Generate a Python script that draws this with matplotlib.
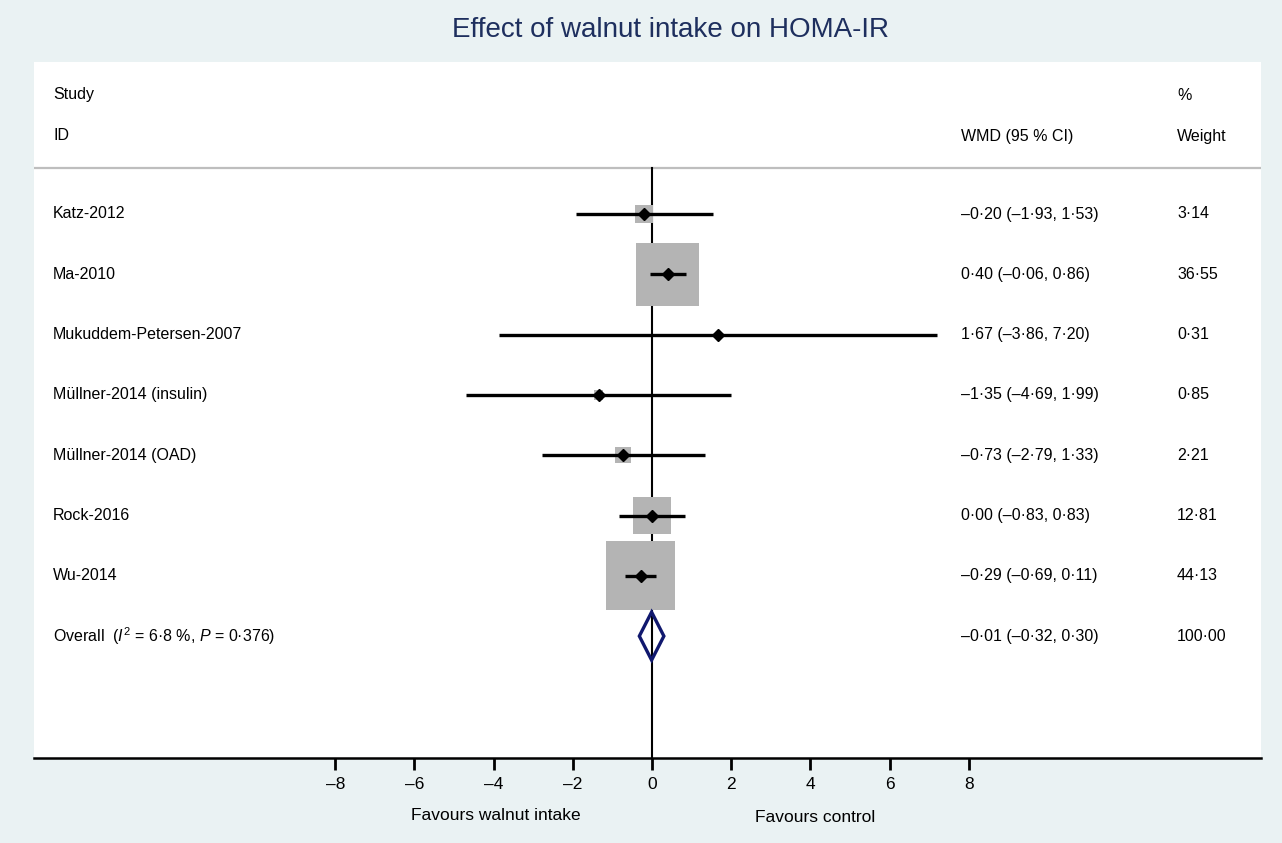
import matplotlib
matplotlib.use("Agg")
import numpy as np
import matplotlib.pyplot as plt
from matplotlib.patches import Rectangle, Polygon

plt.rcParams['font.family'] = ['Liberation Sans', 'DejaVu Sans']
plt.rcParams['mathtext.fontset'] = 'custom'
plt.rcParams['mathtext.rm'] = 'Liberation Sans'
plt.rcParams['mathtext.it'] = 'Liberation Sans:italic'

studies = ["Katz-2012", "Ma-2010", "Mukuddem-Petersen-2007", "Müllner-2014 (insulin)",
           "Müllner-2014 (OAD)", "Rock-2016", "Wu-2014"]
wmd = [-0.20, 0.40, 1.67, -1.35, -0.73, 0.00, -0.29]
ci_lo = [-1.93, -0.06, -3.86, -4.69, -2.79, -0.83, -0.69]
ci_hi = [1.53, 0.86, 7.20, 1.99, 1.33, 0.83, 0.11]
weights = [3.14, 36.55, 0.31, 0.85, 2.21, 12.81, 44.13]
overall = [-0.01, -0.32, 0.30]
overall_label = r"Overall  ($\it{I}^2$ = 6·8 %, $\it{P}$ = 0·376)"
xticks = [-8, -6, -4, -2, 0, 2, 4, 6, 8]

def fmt(v):
    s = "%.2f" % abs(v)
    s = s.replace(".", "·")
    return ("–" + s) if v < 0 else s

W, H = 1282, 843
fig = plt.figure(figsize=(W / 100, H / 100), dpi=100, facecolor='#EAF2F3')
ax = fig.add_axes([34 / W, (H - 758) / H, (1261 - 34) / W, (758 - 62) / H])
ax.set_facecolor('white')

px_x = 39.6   # pixels per x unit
px_y = 60.3   # pixels per row
ax.set_xlim((34 - 652) / px_x, (1261 - 652) / px_x)
ax.set_ylim((758 - 214) / px_y, (62 - 214) / px_y)

header_y = (168 - 214) / px_y
ax.axhline(header_y, color='#BEBEBE', lw=1.6, zorder=1)
ax.plot([0, 0], [header_y, (758 - 214) / px_y], color='black', lw=1.5, zorder=1)

x_text = (53 - 652) / px_x
x_wmd = (961 - 652) / px_x
x_w = (1177 - 652) / px_x
fs = 11.5

ax.text(x_text, (95 - 214) / px_y, "Study", fontsize=fs, va='center')
ax.text(x_text, (136 - 214) / px_y, "ID", fontsize=fs, va='center')
ax.text(x_wmd, (136 - 214) / px_y, "WMD (95 % CI)", fontsize=fs, va='center')
ax.text(x_w, (95 - 214) / px_y, "%", fontsize=fs, va='center')
ax.text(x_w, (136 - 214) / px_y, "Weight", fontsize=fs, va='center')

k = 63 / np.sqrt(36.55)
for i, name in enumerate(studies):
    side = k * np.sqrt(weights[i])
    bw, bh = side / px_x, side / px_y
    ax.add_patch(Rectangle((wmd[i] - bw / 2, i - bh / 2), bw, bh,
                           facecolor='#B4B4B4', edgecolor='none', zorder=2))
    ax.plot([ci_lo[i], ci_hi[i]], [i, i], color='black', lw=2.4, zorder=3,
            solid_capstyle='butt')
    ax.plot(wmd[i], i, marker='D', color='black', markersize=6.5, zorder=4)
    ax.text(x_text, i, name, fontsize=fs, va='center')
    ax.text(x_wmd, i, "%s (%s, %s)" % (fmt(wmd[i]), fmt(ci_lo[i]), fmt(ci_hi[i])),
            fontsize=fs, va='center')
    ax.text(x_w, i, fmt(weights[i]), fontsize=fs, va='center')

yo = len(studies)
dh = 24 / px_y
ax.add_patch(Polygon([[overall[1], yo], [overall[0], yo - dh], [overall[2], yo],
                      [overall[0], yo + dh]], closed=True, facecolor='none',
                     edgecolor='#10186E', lw=2.4, zorder=4))
ax.text(x_text, yo, overall_label, fontsize=fs, va='center')
ax.text(x_wmd, yo, "%s (%s, %s)" % (fmt(overall[0]), fmt(overall[1]), fmt(overall[2])),
        fontsize=fs, va='center')
ax.text(x_w, yo, "100·00", fontsize=fs, va='center')

for s in ['top', 'left', 'right']:
    ax.spines[s].set_visible(False)
ax.spines['bottom'].set_linewidth(1.8)
ax.set_yticks([])
ax.set_xticks(xticks)
ax.set_xticklabels([("–%d" % -t) if t < 0 else str(t) for t in xticks], fontsize=12.5)
ax.tick_params(axis='x', direction='out', length=8.5, width=2.0, pad=5)

fig.text(496 / W, 1 - 815 / H, "Favours walnut intake", fontsize=12.5, ha='center', va='center')
fig.text(815 / W, 1 - 818 / H, "Favours control", fontsize=12.5, ha='center', va='center')
fig.text(671 / W, 1 - 30 / H, "Effect of walnut intake on HOMA-IR", fontsize=20,
         ha='center', va='center', color='#1E2F5E')

fig.savefig("out.png", dpi=100, facecolor=fig.get_facecolor())
